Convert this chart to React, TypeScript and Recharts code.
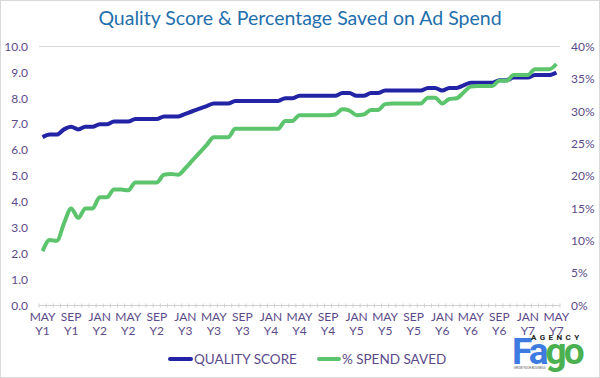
import React from "react";
import { LineChart, Line, XAxis, YAxis, CartesianGrid } from "recharts";

const months = ["MAY", "JUN", "JUL", "AUG", "SEP", "OCT", "NOV", "DEC", "JAN", "FEB", "MAR", "APR"];

const qualityScore = [
  6.5, 6.6, 6.6, 6.8, 6.9, 6.8, 6.9, 6.9, 7.0, 7.0, 7.1, 7.1, 7.1,
  7.2, 7.2, 7.2, 7.2, 7.3, 7.3, 7.3, 7.4, 7.5, 7.6, 7.7, 7.8,
  7.8, 7.8, 7.9, 7.9, 7.9, 7.9, 7.9, 7.9, 7.9, 8.0, 8.0, 8.1,
  8.1, 8.1, 8.1, 8.1, 8.1, 8.2, 8.2, 8.1, 8.1, 8.2, 8.2, 8.3,
  8.3, 8.3, 8.3, 8.3, 8.3, 8.4, 8.4, 8.3, 8.4, 8.4, 8.5, 8.6,
  8.6, 8.6, 8.6, 8.7, 8.7, 8.8, 8.8, 8.8, 8.9, 8.9, 8.9, 9.0,
];

const spendSaved = [
  8.4, 10.1, 10.0, 12.7, 15.0, 13.5, 15.0, 15.0, 16.7, 16.7, 17.9, 17.9, 17.8,
  19.0, 19.0, 19.0, 19.0, 20.2, 20.3, 20.2, 21.2, 22.4, 23.6, 24.8, 26.0,
  26.0, 26.0, 27.3, 27.3, 27.3, 27.3, 27.3, 27.3, 27.3, 28.5, 28.5, 29.4,
  29.4, 29.4, 29.4, 29.4, 29.5, 30.3, 30.1, 29.4, 29.5, 30.2, 30.2, 31.1,
  31.2, 31.2, 31.2, 31.2, 31.2, 32.1, 32.1, 31.2, 31.9, 32.0, 32.9, 33.8,
  33.9, 33.9, 33.9, 34.7, 34.7, 35.6, 35.6, 35.6, 36.5, 36.5, 36.5, 37.3,
];

const leftTicks = [0, 1, 2, 3, 4, 5, 6, 7, 8, 9, 10];
const rightTicks = [0, 5, 10, 15, 20, 25, 30, 35, 40];

const data = qualityScore.map((q, i) => {
  const monthName = months[i % 12];
  const year = Math.floor((i + 4) / 12) + 1;
  return { month: monthName, year: "Y" + year, key: i, qs: q, saved: spendSaved[i] };
});

const TEXT = "#5b4a8a";
const BLUE = "#2323a6";
const GREEN = "#5cc46c";
const FONT = "Lato, 'Open Sans', sans-serif";

const XTick = (props: any) => {
  const { x, y, payload } = props;
  const band = 515 / 72;
  const i = payload.value as number;
  const d = data[i];
  return (
    <g>
      <line x1={x - band / 2} x2={x - band / 2} y1={y - 8} y2={y - 4} stroke="#d0d0d0" />
      {i === data.length - 1 && (
        <line x1={x + band / 2} x2={x + band / 2} y1={y - 8} y2={y - 4} stroke="#d0d0d0" />
      )}
      {i % 4 === 0 && (
        <text x={x} y={y} textAnchor="middle" fill={TEXT} fontSize={12} fontFamily={FONT}>
          <tspan x={x} dy={9}>{d.month}</tspan>
          <tspan x={x} dy={14}>{d.year}</tspan>
        </text>
      )}
    </g>
  );
};

export default function App() {
  return (
    <div
      style={{
        position: "absolute",
        left: 0,
        top: 0,
        width: 600,
        height: 378,
        background: "#fff",
        boxSizing: "border-box",
        border: "1px solid #d9d9d9",
        fontFamily: FONT,
      }}
    >
      <div
        style={{
          position: "absolute",
          left: 0,
          top: 5,
          width: 598,
          textAlign: "center",
          color: "#1f6fad",
          fontSize: 19.5,
          fontFamily: FONT,
        }}
      >
        Quality Score &amp; Percentage Saved on Ad Spend
      </div>
      <div style={{ position: "absolute", left: -1, top: -1 }}>
        <LineChart
          width={600}
          height={378}
          data={data}
          margin={{ top: 46.5, right: 0, bottom: 32.5, left: 0 }}
        >
          <CartesianGrid vertical={false} stroke="#d9d9d9" strokeWidth={1} />
          <XAxis
            dataKey="key"
            interval={0}
            height={40}
            padding={{ left: 3.6, right: 3.6 }}
            tick={<XTick />}
            tickLine={false}
            axisLine={{ stroke: "#d0d0d0" }}
            tickSize={0}
            tickMargin={6}
          />
          <YAxis
            yAxisId="left"
            domain={[0, 10]}
            ticks={leftTicks}
            width={39}
            axisLine={false}
            tickLine={false}
            tickSize={0}
            tickMargin={11}
            tickFormatter={(v: number) => v.toFixed(1)}
            tick={{ fill: TEXT, fontSize: 12, fontFamily: FONT }}
          />
          <YAxis
            yAxisId="right"
            orientation="right"
            domain={[0, 40]}
            ticks={rightTicks}
            width={40}
            axisLine={false}
            tickLine={false}
            tickSize={0}
            tickMargin={11}
            tickFormatter={(v: number) => v + "%"}
            tick={{ fill: TEXT, fontSize: 12, fontFamily: FONT, textAnchor: "start" }}
          />
          <Line
            yAxisId="left"
            type="monotone"
            dataKey="qs"
            stroke={BLUE}
            strokeWidth={4}
            dot={false}
            isAnimationActive={false}
          />
          <Line
            yAxisId="right"
            type="monotone"
            dataKey="saved"
            stroke={GREEN}
            strokeWidth={4}
            dot={false}
            isAnimationActive={false}
          />
        </LineChart>
      </div>
      <div
        style={{
          position: "absolute",
          left: 167,
          top: 350,
          display: "flex",
          alignItems: "center",
          color: TEXT,
          fontSize: 13.5,
          fontFamily: FONT,
          whiteSpace: "nowrap",
        }}
      >
        <span style={{ display: "inline-block", width: 25, height: 4, background: BLUE, borderRadius: 2 }} />
        <span style={{ marginLeft: 1 }}>QUALITY SCORE</span>
        <span
          style={{ display: "inline-block", width: 24, height: 4, background: GREEN, borderRadius: 2, marginLeft: 20 }}
        />
        <span style={{ marginLeft: 1 }}>% SPEND SAVED</span>
      </div>
      <div style={{ position: "absolute", left: 511, top: 326, width: 80, height: 48, fontFamily: "Roboto, 'Open Sans', sans-serif" }}>
        <div
          style={{
            position: "absolute",
            left: 0,
            top: 4.5,
            fontSize: 37,
            fontWeight: 700,
            lineHeight: "40px",
            letterSpacing: -3,
            whiteSpace: "nowrap",
          }}
        >
          <span style={{ color: "#3d7be0" }}>Fa</span>
          <span style={{ color: "#4bb04f" }}>go</span>
        </div>
        <div
          style={{
            position: "absolute",
            left: 19,
            top: 6,
            fontSize: 8,
            lineHeight: "9px",
            fontWeight: 700,
            letterSpacing: 3.4,
            color: "#222",
            whiteSpace: "nowrap",
          }}
        >
          AGENCY
        </div>
        <div style={{ position: "absolute", left: 2, top: 39, fontSize: 3, lineHeight: "4px", color: "#555", whiteSpace: "nowrap" }}>
          GROW YOUR BUSINESS
        </div>
      </div>
    </div>
  );
}
